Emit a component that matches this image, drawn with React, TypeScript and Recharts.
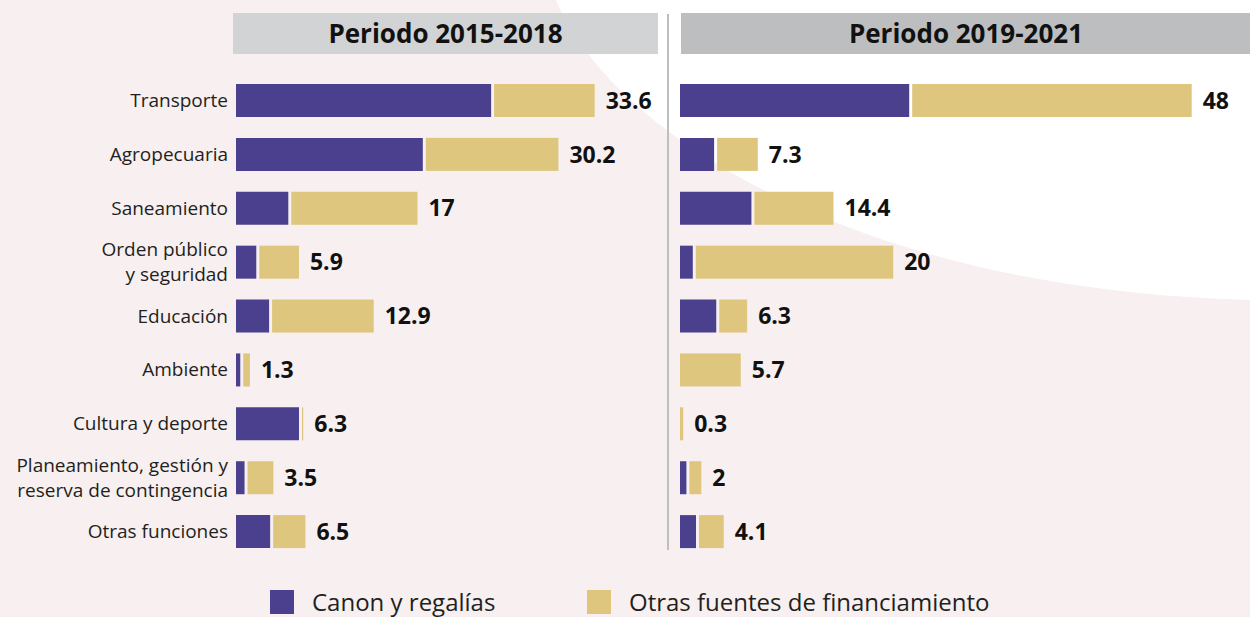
import React from 'react';
import { BarChart, Bar, XAxis, YAxis, LabelList } from 'recharts';

const categories = [
  'Transporte',
  'Agropecuaria',
  'Saneamiento',
  'Orden público\ny seguridad',
  'Educación',
  'Ambiente',
  'Cultura y deporte',
  'Planeamiento, gestión y\nreserva de contingencia',
  'Otras funciones',
];

const canon2015 = [23.9, 17.5, 4.9, 1.9, 3.1, 0.4, 5.9, 0.8, 3.2];
const otras2015 = [9.7, 12.7, 12.1, 4.0, 9.8, 0.9, 0.4, 2.7, 3.3];
const total2015 = [33.6, 30.2, 17, 5.9, 12.9, 1.3, 6.3, 3.5, 6.5];

const canon2019 = [21.5, 3.2, 6.7, 1.2, 3.4, 0, 0, 0.6, 1.5];
const otras2019 = [26.5, 4.1, 7.7, 18.8, 2.9, 5.7, 0.3, 1.4, 2.6];
const total2019 = [48, 7.3, 14.4, 20, 6.3, 5.7, 0.3, 2, 4.1];

const periods = ['Periodo 2015-2018', 'Periodo 2019-2021'];
const seriesNames = ['Canon y regalías', 'Otras fuentes de financiamiento'];

const PURPLE = '#4b408e';
const GOLD = '#dec67e';
const FONT = '"Open Sans", sans-serif';

const build = (canon: number[], otras: number[], total: number[]) =>
  categories.map((name, i) => ({ name, canon: canon[i], otras: otras[i], total: total[i] }));

const data2015 = build(canon2015, otras2015, total2015);
const data2019 = build(canon2019, otras2019, total2019);

// second segment leaves a small white gap after the purple one
const GapBar = (props: any) => {
  const { x, y, width, height, fill, payload } = props;
  const gap = payload && payload.canon > 0 ? 3 : 0;
  return <rect x={x + gap} y={y} width={Math.max(width - gap, 0)} height={height} fill={fill} />;
};

const CategoryTick = (props: any) => {
  const { x, y, payload } = props;
  const lines = String(payload.value).split('\n');
  const lh = 25;
  const start = y + 6 - ((lines.length - 1) * lh) / 2;
  return (
    <text x={x} y={start} textAnchor="end" fontSize={19} fill="#231f20" fontFamily={FONT}>
      {lines.map((l, i) => (
        <tspan key={i} x={x} dy={i === 0 ? 0 : lh}>
          {l}
        </tspan>
      ))}
    </text>
  );
};

const labelStyle = { fontSize: 23, fontWeight: 700, fill: '#111', fontFamily: FONT };

const Panel = ({ data, domainMax, width, showAxis }: any) => (
  <BarChart
    width={width}
    height={617}
    data={data}
    layout="vertical"
    margin={{ top: 74, right: 0, left: 0, bottom: 58 }}
    barSize={33}
  >
    <XAxis type="number" domain={[0, domainMax]} hide />
    <YAxis
      type="category"
      dataKey="name"
      width={showAxis ? 236 : 0}
      hide={!showAxis}
      axisLine={false}
      tickLine={false}
      tickSize={6}
      tickMargin={2}
      interval={0}
      tick={<CategoryTick />}
    />
    <Bar dataKey="canon" stackId="a" fill={PURPLE} isAnimationActive={false} />
    <Bar dataKey="otras" stackId="a" fill={GOLD} shape={<GapBar />} isAnimationActive={false}>
      <LabelList dataKey="total" position="right" offset={11} style={labelStyle} />
    </Bar>
  </BarChart>
);

export default function App() {
  return (
    <div style={{ position: 'relative', width: 1250, height: 617, overflow: 'hidden', fontFamily: FONT }}>
      <style>{`body{margin:0}`}</style>
      <svg width={1250} height={617} style={{ position: 'absolute', left: 0, top: 0 }}>
        <rect x={0} y={0} width={1250} height={617} fill="#f7eff0" />
        <path d="M556,0 C610,130 850,290 1250,300 L1250,0 Z" fill="#ffffff" />
        <rect x={233} y={13} width={425} height={41} fill="#d1d3d4" />
        <rect x={681} y={13} width={569} height={41} fill="#bcbec0" />
        <text x={445.5} y={43} textAnchor="middle" fontSize={26} fontWeight={700} fill="#111" fontFamily={FONT}>
          {periods[0]}
        </text>
        <text x={966} y={43} textAnchor="middle" fontSize={26} fontWeight={700} fill="#111" fontFamily={FONT}>
          {periods[1]}
        </text>
        <line x1={668} y1={14} x2={668} y2={550} stroke="#bcbec0" strokeWidth={2} />
        <rect x={270} y={590} width={24} height={24} fill={PURPLE} />
        <text x={312} y={611} fontSize={24} fill="#231f20" fontFamily={FONT}>
          {seriesNames[0]}
        </text>
        <rect x={587} y={590} width={24} height={24} fill={GOLD} />
        <text x={629} y={611} fontSize={24} fill="#231f20" fontFamily={FONT}>
          {seriesNames[1]}
        </text>
      </svg>
      <div style={{ position: 'absolute', left: 0, top: 0 }}>
        <Panel data={data2015} domainMax={40} width={663} showAxis />
      </div>
      <div style={{ position: 'absolute', left: 680, top: 0 }}>
        <Panel data={data2019} domainMax={53} width={565} showAxis={false} />
      </div>
    </div>
  );
}
